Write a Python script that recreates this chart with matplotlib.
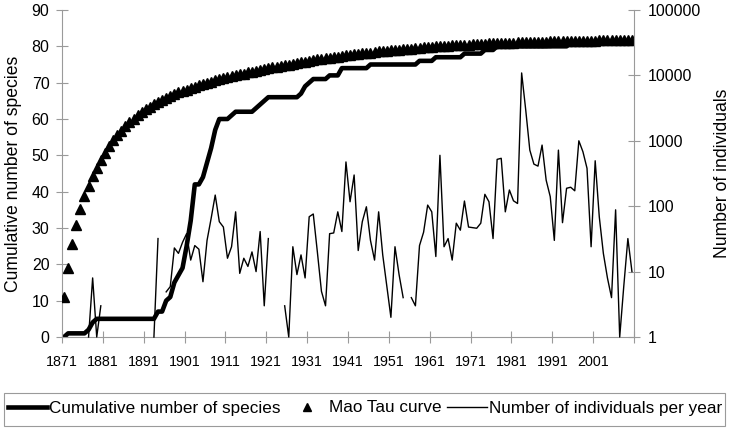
import numpy as np
import matplotlib
matplotlib.use('Agg')
import matplotlib.pyplot as plt
from matplotlib.lines import Line2D
from matplotlib.patches import Rectangle
from matplotlib.ticker import NullLocator

plt.rcParams['font.family'] = ['Liberation Sans', 'DejaVu Sans']

# one value per year, 1871 .. 2010
years = list(range(1871, 2011))

cumulative_species = [
    0, 1, 1, 1, 1, 1, 2, 4, 5,                        # 1871-1879
    5, 5, 5, 5, 5, 5, 5, 5, 5, 5,                     # 1880s
    5, 5, 5, 5, 7, 7, 10, 11, 15, 17,                 # 1890s
    19, 25, 32, 42, 42, 44, 48, 52, 57, 60,           # 1900s
    60, 60, 61, 62, 62, 62, 62, 62, 63, 64,           # 1910s
    65, 66, 66, 66, 66, 66, 66, 66, 66, 67,           # 1920s
    69, 70, 71, 71, 71, 71, 72, 72, 72, 74,           # 1930s
    74, 74, 74, 74, 74, 74, 75, 75, 75, 75,           # 1940s
    75, 75, 75, 75, 75, 75, 75, 75, 76, 76,           # 1950s
    76, 76, 77, 77, 77, 77, 77, 77, 77, 78,           # 1960s
    78, 78, 78, 78, 79, 79, 79, 80, 80, 80,           # 1970s
    80, 80, 80, 80, 80, 80, 80, 80, 80, 80,           # 1980s
    80, 80, 80, 80, 80, 81, 81, 81, 81, 81,           # 1990s
    81, 81, 81, 81, 81, 81, 81, 81, 81, 81, 81,       # 2000-2010
]

mao_tau = [
    11.0, 19.0, 25.5, 30.8, 35.3, 38.8, 41.6, 44.2, 46.5,
    48.7, 50.7, 52.5, 54.1, 55.5, 56.8, 58.0, 59.1, 60.1, 61.0,
    61.9, 62.7, 63.4, 64.0, 64.6, 65.2, 65.8, 66.3, 66.8, 67.3,
    67.7, 68.1, 68.5, 68.9, 69.3, 69.6, 69.9, 70.3, 70.6, 70.9,
    71.2, 71.5, 71.8, 72.0, 72.3, 72.5, 72.8, 73.0, 73.3, 73.5,
    73.7, 73.9, 74.2, 74.4, 74.6, 74.8, 75.0, 75.2, 75.4, 75.6,
    75.8, 76.0, 76.2, 76.4, 76.5, 76.7, 76.9, 77.0, 77.2, 77.3,
    77.5, 77.6, 77.8, 77.9, 78.1, 78.2, 78.3, 78.4, 78.6, 78.7,
    78.8, 78.9, 79.0, 79.1, 79.2, 79.3, 79.4, 79.5, 79.6, 79.7,
    79.8, 79.9, 80.0, 80.0, 80.1, 80.2, 80.3, 80.3, 80.4, 80.4,
    80.5, 80.6, 80.6, 80.7, 80.7, 80.8, 80.8, 80.9, 80.9, 81.0,
    81.0, 81.0, 81.1, 81.1, 81.2, 81.2, 81.2, 81.3, 81.3, 81.3,
    81.4, 81.4, 81.4, 81.4, 81.5, 81.5, 81.5, 81.5, 81.6, 81.6,
    81.6, 81.6, 81.7, 81.7, 81.7, 81.7, 81.7, 81.8, 81.8, 81.8, 81.8,
]

nan = np.nan
# years with no individuals are gaps on the log axis
individuals = [
    nan, nan, nan, nan, nan, nan, 1, 8, 1,                    # 1871-1879
    3, nan, nan, nan, nan, nan, nan, nan, nan, nan,           # 1880s
    nan, nan, nan, 1, 32, nan, 4.9, 5.9, 23, 19,              # 1890s
    28, 38, 15, 25, 22, 7, 30, 65, 148, 58,                   # 1900s
    48, 16, 24, 82, 9.4, 16, 12, 20, 10, 41,                  # 1910s
    3, 32, nan, nan, nan, 3, 1, 24, 9, 18,                    # 1920s
    8, 69, 76, 20, 5, 3, 38, 39, 82, 41,                      # 1930s
    475, 117, 300, 21, 58, 98, 30, 15, 82, 18,                # 1940s
    6, 2, 24, 9, 4, nan, 4, 3, 25, 40,                        # 1950s
    104, 82, 17, 600, 24, 32, 15, 55, 43, 120,                # 1960s
    48, 47, 46, 55, 152, 117, 32, 520, 540, 82,               # 1970s
    177, 121, 110, 10900, 2960, 720, 440, 410, 860, 250,      # 1980s
    140, 30, 720, 56, 188, 195, 172, 1000, 680, 380,          # 1990s
    24, 495, 69, 19, 8, 4, 88, 1, 6, 32, 10,                  # 2000-2010
]

tick_years = list(range(1871, 2012, 10))
right_ticks = [1, 10, 100, 1000, 10000, 100000]

grey = '#9a9a9a'

fig = plt.figure(figsize=(7.31, 4.29), dpi=100)
ax = fig.add_axes([62 / 731, 1 - 337 / 429, 572 / 731, 327 / 429])
ax2 = ax.twinx()

ax.plot(years, cumulative_species, color='black', lw=3.3, zorder=2)
ax.plot(years, mao_tau, ls='none', marker='^', ms=7, color='black', zorder=3)
ax2.plot(years, individuals, color='black', lw=1.0, clip_on=False)

ax.set_xlim(1870.5, 2010.5)
ax.set_ylim(0, 90)
ax.set_yticks(range(0, 91, 10))
# categories sit between tick marks, as in the spreadsheet chart
ax.set_xticks([y - 0.5 for y in tick_years])
ax.set_xticklabels([str(y) for y in tick_years[:-1]] + [''])

ax2.set_yscale('log')
ax2.set_ylim(1, 100000)
ax2.set_yticks(right_ticks)
ax2.set_yticklabels([str(v) for v in right_ticks])
ax2.yaxis.set_minor_locator(NullLocator())

for a in (ax, ax2):
    a.spines['top'].set_visible(False)
    for s in a.spines.values():
        s.set_color(grey)
        s.set_linewidth(0.8)
ax.spines['right'].set_visible(False)
ax2.spines['left'].set_visible(False)
ax2.spines['bottom'].set_visible(False)

ax.tick_params(axis='x', direction='inout', length=8, width=0.8, color=grey,
               labelsize=10.3, pad=9)
ax.tick_params(axis='y', direction='inout', length=8, width=0.8, color=grey,
               labelsize=11.5, pad=5)
ax2.tick_params(axis='y', direction='inout', length=8, width=0.8, color=grey,
                labelsize=11.5, pad=6)

ax.set_ylabel('Cumulative number of species', fontsize=12.7, labelpad=7)
ax2.set_ylabel('Number of individuals', fontsize=12.7, labelpad=9)

handles = [
    Line2D([], [], color='black', lw=3.3),
    Line2D([], [], ls='none', marker='^', ms=6, color='black'),
    Line2D([], [], color='black', lw=1.0),
]
labels = ['Cumulative number of species', 'Mao Tau curve',
          'Number of individuals per year']
fig.legend(handles, labels, loc='center', bbox_to_anchor=(365 / 731, 1 - 408 / 429),
           ncol=3, frameon=False, fontsize=12.3, handlelength=2.3,
           handletextpad=0.15, columnspacing=0.35, borderaxespad=0)
fig.add_artist(Rectangle((4 / 731, 1 - 426 / 429), 721 / 731, 33 / 429,
                         transform=fig.transFigure, fill=False,
                         edgecolor=grey, lw=0.8))

fig.savefig('out.png', dpi=100)
